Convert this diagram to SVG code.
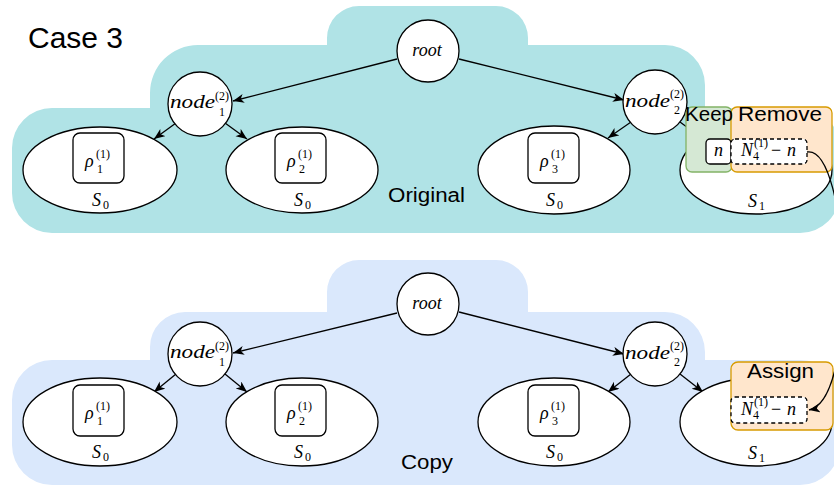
<svg xmlns="http://www.w3.org/2000/svg" width="834" height="487" viewBox="0 0 834 487">
  <defs>
    <marker id="arrow" markerUnits="userSpaceOnUse" markerWidth="12" markerHeight="10" refX="11" refY="4.5" orient="auto">
      <path d="M0,0 L11,4.5 L0,9 L3,4.5 Z" fill="#000"/>
    </marker>
    <style>
      .edge { fill: none; stroke: #000; stroke-width: 1.3; marker-end: url(#arrow); }
      .circ { fill: #fff; stroke: #000; stroke-width: 1.3; }
      .set { fill: #fff; stroke: #000; stroke-width: 1.3; }
      .box { fill: #fff; stroke: #000; stroke-width: 1.3; }
      .dash { fill: #fff; stroke: #000; stroke-width: 1.3; stroke-dasharray: 4 3; }
      .keep { fill: #d5e8d4; stroke: #82b366; stroke-width: 1.3; }
      .rem { fill: #ffe6cc; stroke: #d79b00; stroke-width: 1.3; }
      .lbl { font-family: "Liberation Sans", Arial, sans-serif; font-size: 20px; fill: #000; }
      .mi { font-style: italic; font-size: 18px; fill: #000; }
      .mn { font-style: normal; font-size: 12px; fill: #000; }
      .mo { font-style: normal; font-size: 18px; fill: #000; }
    </style>
  </defs>

  <!-- stepped backgrounds -->
  <path id="bg-original" fill="#b0e3e6" d="M12,193 L12,148 A40,40 0 0 1 52,108 L150,108 L150,93 A48,48 0 0 1 198,45 L327,45 L327,38 A32,32 0 0 1 359,6 L496,6 A32,32 0 0 1 528,38 L528,45 L665,45 A40,40 0 0 1 705,85 L705,108 L800,108 A40,40 0 0 1 840,148 L840,193 A40,40 0 0 1 800,233 L52,233 A40,40 0 0 1 12,193 Z"/>
  <path id="bg-copy" fill="#dae8fc" d="M12,445 L12,400 A40,40 0 0 1 52,360 L150,360 L150,347 A35,35 0 0 1 185,312 L327,312 L327,292 A32,32 0 0 1 359,260 L496,260 A32,32 0 0 1 528,292 L528,312 L665,312 A40,40 0 0 1 705,352 L705,360 L800,360 A40,40 0 0 1 840,400 L840,445 A40,40 0 0 1 800,485 L52,485 A40,40 0 0 1 12,445 Z"/>

  <text class="lbl" x="28" y="48" style="font-size:29px" textLength="95" lengthAdjust="spacingAndGlyphs">Case 3</text>
  <text class="lbl" x="388" y="202" textLength="77" lengthAdjust="spacingAndGlyphs">Original</text>
  <text class="lbl" x="401" y="469" textLength="52" lengthAdjust="spacingAndGlyphs">Copy</text>

  <!-- connectors -->
  <g id="connectors">
    <path class="edge" d="M397,59 L233,101"/>
    <path class="edge" d="M459,59 L624,100"/>
    <path class="edge" d="M176,123 L154,139"/>
    <path class="edge" d="M225,123 L247,139"/>
    <path class="edge" d="M631,122 L608,138"/>
    <path class="edge" d="M680,122 L703,139"/>

    <path class="edge" d="M397,313 L233,353"/>
    <path class="edge" d="M459,312 L624,354"/>
    <path class="edge" d="M176,374 L154,392"/>
    <path class="edge" d="M225,374 L247,392"/>
    <path class="edge" d="M631,374 L608,392"/>
    <path class="edge" d="M680,374 L703,392"/>
  </g>

  <!-- math labels use a serif face -->
  <g font-family="Liberation Serif, Times New Roman, Times, DejaVu Serif, serif">
  <!-- upper tree -->
  <g id="o-root">
    <circle class="circ" cx="428" cy="51" r="31"/>
    <text class="mi" x="427" y="56" text-anchor="middle">root</text>
  </g>
  <g id="o-node1">
    <circle class="circ" cx="200" cy="104" r="32"/>
    <text class="mi" x="170" y="108" textLength="45" lengthAdjust="spacingAndGlyphs">node</text>
    <text class="mn" x="215" y="100">(2)</text>
    <text class="mn" x="219" y="116">1</text>
  </g>
  <g id="o-node2">
    <circle class="circ" cx="655" cy="102" r="32"/>
    <text class="mi" x="625" y="107" textLength="45" lengthAdjust="spacingAndGlyphs">node</text>
    <text class="mn" x="670" y="98">(2)</text>
    <text class="mn" x="674" y="114">2</text>
  </g>
  <g id="o-set1">
    <ellipse class="set" cx="100" cy="170" rx="77" ry="43"/>
    <rect class="box" x="73" y="133" width="51" height="50" rx="7"/>
    <text class="mi" x="85" y="167">ρ</text>
    <text class="mn" x="96" y="158">(1)</text>
    <text class="mn" x="97" y="173">1</text>
    <text class="mi" x="92" y="206">S</text>
    <text class="mn" x="103" y="209">0</text>
  </g>
  <g id="o-set2">
    <ellipse class="set" cx="302" cy="170" rx="76" ry="43"/>
    <rect class="box" x="275" y="133" width="51" height="50" rx="7"/>
    <text class="mi" x="287" y="167">ρ</text>
    <text class="mn" x="298" y="158">(1)</text>
    <text class="mn" x="299" y="173">2</text>
    <text class="mi" x="294" y="206">S</text>
    <text class="mn" x="305" y="209">0</text>
  </g>
  <g id="o-set3">
    <ellipse class="set" cx="554" cy="170" rx="76" ry="44"/>
    <rect class="box" x="528" y="133" width="51" height="50" rx="7"/>
    <text class="mi" x="540" y="167">ρ</text>
    <text class="mn" x="551" y="158">(1)</text>
    <text class="mn" x="552" y="173">3</text>
    <text class="mi" x="546" y="206">S</text>
    <text class="mn" x="557" y="209">0</text>
  </g>
  <g id="o-set4">
    <ellipse class="set" cx="756" cy="170" rx="76" ry="44"/>
    <text class="mi" x="748" y="207">S</text>
    <text class="mn" x="759" y="210">1</text>
  </g>
  <g id="o-keep">
    <rect class="keep" x="686" y="107" width="46" height="65" rx="6"/>
  </g>
  <g id="o-remove">
    <rect class="rem" x="731" y="107" width="101" height="65" rx="6"/>
  </g>
  <g id="o-n">
    <rect class="box" x="706" y="139" width="25" height="25" rx="4"/>
    <text class="mi" x="718.5" y="156" text-anchor="middle">n</text>
  </g>
  <g id="o-rest">
    <rect class="dash" x="731" y="139" width="76" height="25" rx="4"/>
    <text class="mi" x="741" y="156">N</text>
    <text class="mn" x="754" y="147">(1)</text>
    <text class="mn" x="753" y="160">4</text>
    <text class="mo" x="771" y="156">−</text>
    <text class="mi" x="787" y="156">n</text>
  </g>

  <!-- lower tree -->
  <g id="c-root">
    <circle class="circ" cx="428" cy="304" r="31"/>
    <text class="mi" x="427" y="309" text-anchor="middle">root</text>
  </g>
  <g id="c-node1">
    <circle class="circ" cx="200" cy="354" r="32"/>
    <text class="mi" x="170" y="358" textLength="45" lengthAdjust="spacingAndGlyphs">node</text>
    <text class="mn" x="215" y="350">(2)</text>
    <text class="mn" x="219" y="366">1</text>
  </g>
  <g id="c-node2">
    <circle class="circ" cx="655" cy="354" r="32"/>
    <text class="mi" x="625" y="359" textLength="45" lengthAdjust="spacingAndGlyphs">node</text>
    <text class="mn" x="670" y="350">(2)</text>
    <text class="mn" x="674" y="366">2</text>
  </g>
  <g id="c-set1">
    <ellipse class="set" cx="100" cy="422" rx="77" ry="44"/>
    <rect class="box" x="73" y="385" width="51" height="51" rx="7"/>
    <text class="mi" x="85" y="419">ρ</text>
    <text class="mn" x="96" y="410">(1)</text>
    <text class="mn" x="97" y="425">1</text>
    <text class="mi" x="92" y="458">S</text>
    <text class="mn" x="103" y="461">0</text>
  </g>
  <g id="c-set2">
    <ellipse class="set" cx="302" cy="422" rx="76" ry="44"/>
    <rect class="box" x="275" y="385" width="51" height="51" rx="7"/>
    <text class="mi" x="287" y="419">ρ</text>
    <text class="mn" x="298" y="410">(1)</text>
    <text class="mn" x="299" y="425">2</text>
    <text class="mi" x="294" y="458">S</text>
    <text class="mn" x="305" y="461">0</text>
  </g>
  <g id="c-set3">
    <ellipse class="set" cx="554" cy="422" rx="76" ry="44"/>
    <rect class="box" x="528" y="385" width="51" height="51" rx="7"/>
    <text class="mi" x="540" y="419">ρ</text>
    <text class="mn" x="551" y="410">(1)</text>
    <text class="mn" x="552" y="425">3</text>
    <text class="mi" x="546" y="458">S</text>
    <text class="mn" x="557" y="461">0</text>
  </g>
  <g id="c-set4">
    <ellipse class="set" cx="756" cy="422" rx="76" ry="44"/>
    <text class="mi" x="748" y="459">S</text>
    <text class="mn" x="759" y="462">1</text>
  </g>
  <g id="c-assign">
    <rect class="rem" x="731" y="362" width="102" height="68" rx="7"/>
  </g>
  <g id="c-rest">
    <rect class="dash" x="731" y="397" width="76" height="26" rx="4"/>
    <text class="mi" x="741" y="415">N</text>
    <text class="mn" x="754" y="406">(1)</text>
    <text class="mn" x="753" y="419">4</text>
    <text class="mo" x="771" y="415">−</text>
    <text class="mi" x="787" y="415">n</text>
  </g>
  </g>

  <text class="lbl" x="685" y="121" textLength="48" lengthAdjust="spacingAndGlyphs">Keep</text>
  <text class="lbl" x="738" y="121" textLength="84" lengthAdjust="spacingAndGlyphs">Remove</text>
  <text class="lbl" x="747" y="378" textLength="67" lengthAdjust="spacingAndGlyphs">Assign</text>

  <!-- transfer link between the two trees -->
  <path class="edge" d="M807,152 C850,145 860,400 809,410"/>
</svg>
